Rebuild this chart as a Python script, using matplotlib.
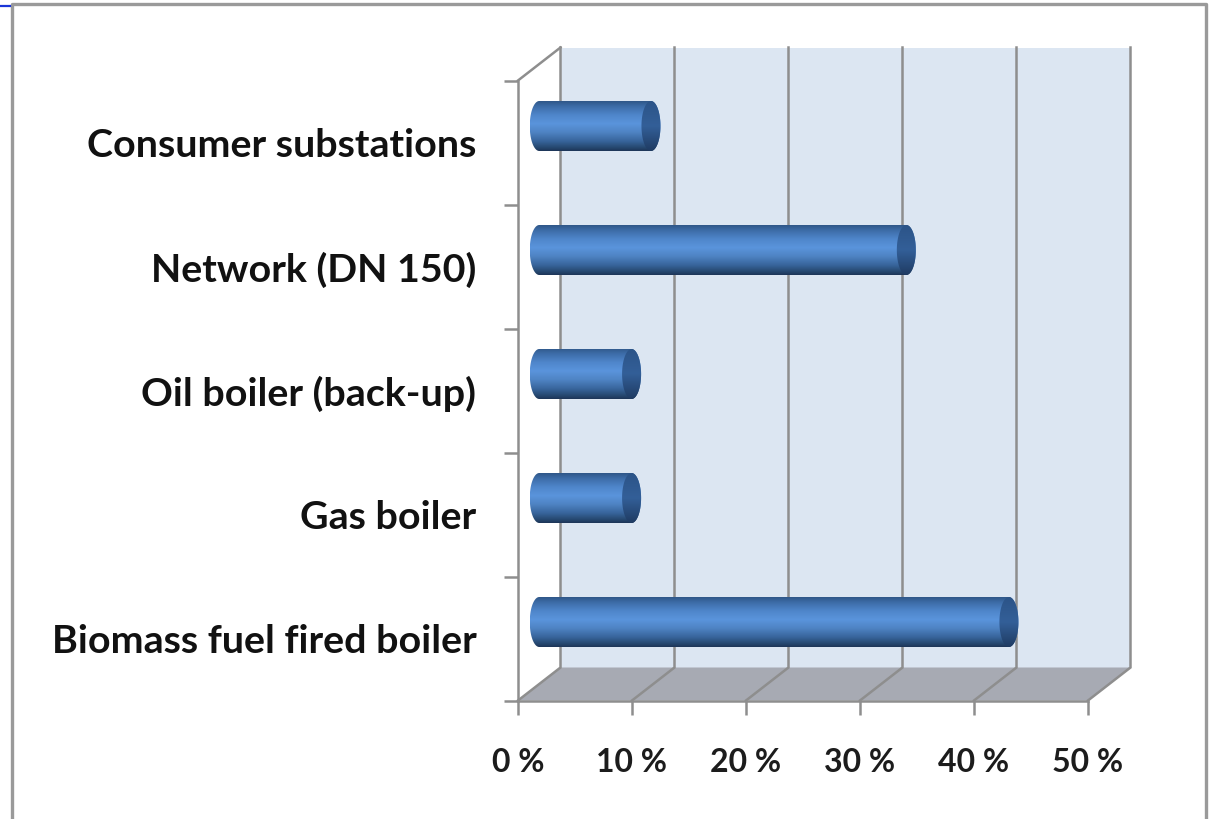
import numpy as np
import matplotlib
matplotlib.use("Agg")
import matplotlib.pyplot as plt
from matplotlib.colors import LinearSegmentedColormap
from matplotlib.lines import Line2D
from matplotlib.patches import PathPatch, Polygon
from matplotlib.path import Path

categories = ["Biomass fuel fired boiler", "Gas boiler", "Oil boiler (back-up)",
              "Network (DN 150)", "Consumer substations"]
shares = [41.2, 8.1, 8.1, 32.2, 9.8]
x_ticks = [0, 10, 20, 30, 40, 50]
x_tick_labels = ["0 %", "10 %", "20 %", "30 %", "40 %", "50 %"]

W, H = 1211, 819
GREY = "#8e8e8e"
LW = 1.8

plt.rcParams["font.family"] = ["Lato", "DejaVu Sans"]
fig = plt.figure(figsize=(W / 100, H / 100), dpi=100, facecolor="white")
ax = fig.add_axes([518 / W, (H - 700.5) / H, 570 / W, 620 / H])
ax.set_facecolor("none")
ax.set_xlim(0, 50)
ax.set_ylim(0, 5)

# Depth of the 3D box, in data units
dx = 42.5 / 11.4
dy = 33 / 124

# Back wall, floor and box edges
ax.add_patch(Polygon([(dx, dy), (50 + dx, dy), (50 + dx, 5 + dy), (dx, 5 + dy)],
                     closed=True, fc="#dce6f2", ec="none", clip_on=False, zorder=1))
ax.add_patch(Polygon([(0, 0), (50, 0), (50 + dx, dy), (dx, dy)],
                     closed=True, fc="#a7aab3", ec="none", clip_on=False, zorder=1))
for t in x_ticks:
    ax.plot([t, t + dx, t + dx], [0, dy, 5 + dy], color=GREY, lw=LW, clip_on=False,
            zorder=2, solid_joinstyle="miter")
ax.plot([0, dx], [5, 5 + dy], color=GREY, lw=LW, clip_on=False, zorder=2)

# Axis spines and ticks
for side in ("top", "right"):
    ax.spines[side].set_visible(False)
for side in ("left", "bottom"):
    ax.spines[side].set_color(GREY)
    ax.spines[side].set_linewidth(LW)
    ax.spines[side].set_zorder(3)
centers = np.arange(len(categories)) + 0.5
ax.set_yticks(np.arange(len(categories) + 1))
ax.set_yticklabels([])
ax.set_yticks(centers, minor=True)
ax.set_yticklabels(categories, minor=True, fontsize=28.4, fontweight="bold", color="#111111")
ax.tick_params(axis="y", which="major", length=10, width=LW, color=GREY)
ax.tick_params(axis="y", which="minor", length=0, pad=30)
ax.set_xticks(x_ticks)
ax.set_xticklabels(x_tick_labels, fontsize=23, fontweight="bold", color="#1c1c1c")
ax.tick_params(axis="x", length=10, width=LW, color=GREY, pad=24.5)

# Cylinder bars with a vertical shading gradient
body_cmap = LinearSegmentedColormap.from_list(
    "body", [(0, "#2f5788"), (0.1, "#3c6ba6"), (0.28, "#4f86cb"), (0.45, "#5a94dc"),
             (0.62, "#4f84c4"), (0.8, "#38659c"), (0.93, "#264870"), (1, "#1d3558")])
cap_cmap = LinearSegmentedColormap.from_list(
    "cap", [(0, "#2c5488"), (0.5, "#335f98"), (1, "#1f3b62")])
gradient = np.linspace(0, 1, 256).reshape(-1, 1)

rx = 9.5 / 11.4
ry = 25 / 124
x0 = dx / 2
offset = dy / 2
theta = np.linspace(0, 2 * np.pi, 120)

for yc, value in zip(centers + offset, shares):
    x1 = x0 + value
    near = np.linspace(np.pi / 2, 3 * np.pi / 2, 60)
    far = np.linspace(-np.pi / 2, np.pi / 2, 60)
    outline = np.vstack([
        np.column_stack([x0 + rx * np.cos(near), yc + ry * np.sin(near)]),
        np.column_stack([x1 + rx * np.cos(far), yc + ry * np.sin(far)]),
    ])
    extent = (x0 - rx, x1 + rx, yc - ry, yc + ry)
    body = ax.imshow(gradient, cmap=body_cmap, extent=extent, aspect="auto", zorder=4)
    body.set_clip_path(PathPatch(Path(np.vstack([outline, outline[:1]]), closed=True),
                                 transform=ax.transData))
    cap_pts = np.column_stack([x1 + rx * np.cos(theta), yc + ry * np.sin(theta)])
    cap = ax.imshow(gradient, cmap=cap_cmap, extent=extent, aspect="auto", zorder=5)
    cap.set_clip_path(PathPatch(Path(cap_pts, closed=True), transform=ax.transData))
ax.set_xlim(0, 50)
ax.set_ylim(0, 5)

# Outer chart frame and the short rule at the corner
fig.add_artist(Line2D([12 / W, 12 / W, 1206 / W, 1206 / W],
                      [0, 1 - 3.5 / H, 1 - 3.5 / H, 0], color="#9a9a9a", lw=2.4))
fig.add_artist(Line2D([0, 10 / W], [1 - 5.5 / H, 1 - 5.5 / H], color="#1a35d8", lw=1.6))

fig.savefig("out.png", dpi=100, facecolor="white")
